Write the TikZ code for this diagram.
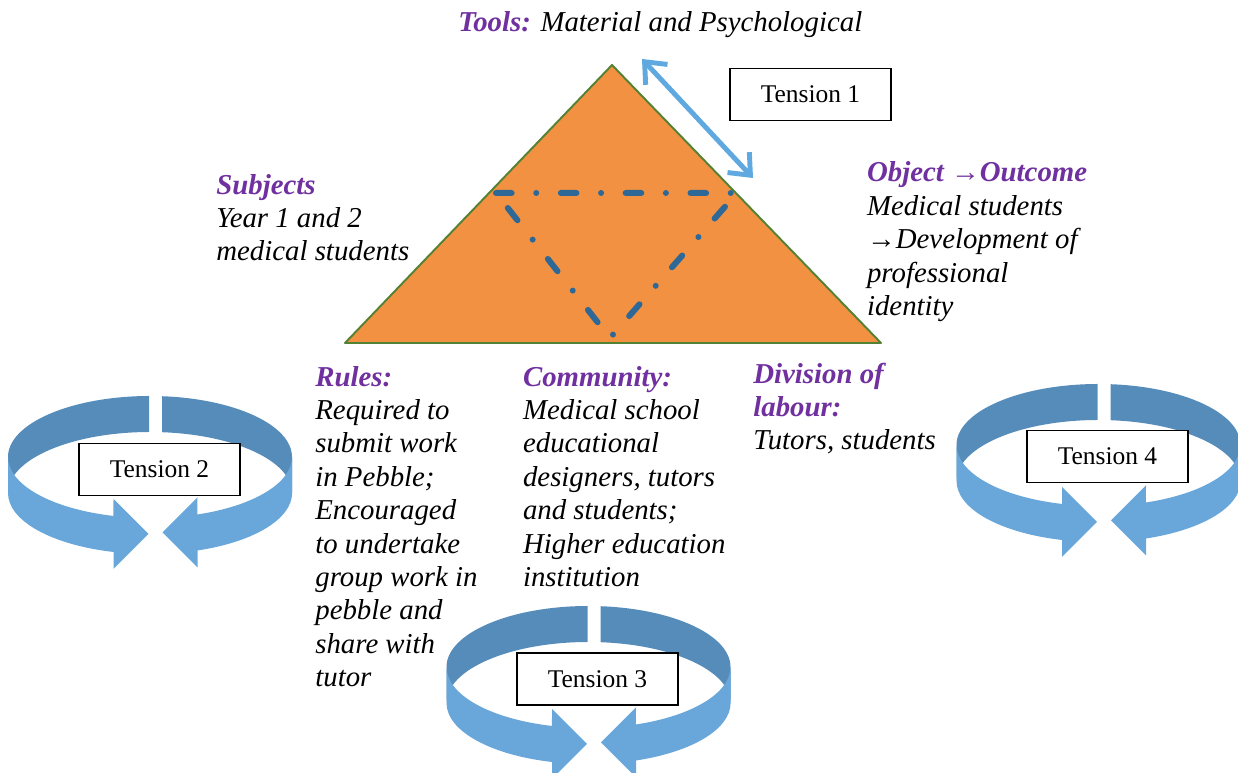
\documentclass[tikz,border=0pt]{standalone}
\usepackage{fontspec}
\setmainfont{Liberation Serif}
\usetikzlibrary{arrows.meta}

\definecolor{orangetri}{RGB}{241,145,65}
\definecolor{verttri}{RGB}{84,130,53}
\definecolor{bleufonce}{RGB}{46,104,150}
\definecolor{bleuclair}{RGB}{95,168,224}
\definecolor{anneaudos}{RGB}{86,140,186}
\definecolor{anneaface}{RGB}{105,167,219}
\definecolor{violet}{RGB}{112,48,160}

\newcommand\rubrique[1]{{\bfseries\color{violet}#1}}
\newcommand\premier{\rule{0pt}{13.3pt}}

\tikzset{
  txt/.style={anchor=north west, inner sep=0pt, align=left,
    font=\fontsize{16.4}{19}\selectfont\itshape},
  tensionbox/.style={draw, fill=white, line width=1.1pt, inner sep=0pt,
    minimum width=3.22cm, minimum height=1.04cm,
    font=\fontsize{14.5}{17}\selectfont},
}

\begin{document}
\begin{tikzpicture}[x=0.02cm,y=0.02cm]
\useasboundingbox (0,0) rectangle (1238,773);

% triangle
\coordinate (sommet) at (612,708);
\coordinate (gauche) at (345,430);
\coordinate (droite) at (881,430);
\fill[orangetri] (sommet) -- (gauche) -- (droite) -- cycle;
\draw[verttri, line width=1.1pt, line join=round] (sommet) -- (gauche) -- (droite) -- cycle;

% triangle interieur en tirets-points
\coordinate (dl) at (496,580);
\coordinate (dr) at (737,580);
\coordinate (db) at (610,435);
\draw[bleufonce, line width=3.4pt, line cap=round,
  dash pattern=on 8.9pt off 14pt on 0pt off 14pt] (dl) -- (dr) -- (db) -- cycle;

% tension 1
\coordinate (t1a) at (642,714);
\coordinate (t1b) at (753,595);
\draw[bleuclair, line width=2.8pt,
  {Straight Barb[length=10pt,width=17pt]}-{Straight Barb[length=10pt,width=17pt]}] (t1a) -- (t1b);
\node[tensionbox] (t1) at (810.5,678.5) {Tension 1};

% anneaux : ecart du haut, haut de l'anneau, numero
\foreach \gx/\yt/\n in {155.5/377/2, 594/167/3, 1104/389/4} {
  \pgfmathsetmacro\ex{\gx-5.5}
  \pgfmathsetmacro\ey{\yt-61}
  % partie arriere
  \fill[anneaudos] (\ex-142,\ey) arc[start angle=180, end angle=90.4, x radius=142, y radius=61]
    -- ++(0,-36) arc[start angle=90.4, end angle=180, x radius=142, y radius=61] -- cycle;
  \fill[anneaudos] (\ex+142,\ey) arc[start angle=0, end angle=85.15, x radius=142, y radius=61]
    -- ++(0,-36) arc[start angle=85.15, end angle=0, x radius=142, y radius=61] -- cycle;
  % partie avant avec les fleches
  \fill[anneaface] (\ex-142,\ey) arc[start angle=180, end angle=255.1, x radius=142, y radius=61]
    -- (\gx-42,\ey-42) -- (\gx-7,\ey-77) -- (\gx-42,\ey-112) -- (\gx-42,\ey-95)
    arc[start angle=255.1, end angle=180, x radius=142, y radius=61] -- cycle;
  \fill[anneaface] (\ex+142,\ey) arc[start angle=360, end angle=289.5, x radius=142, y radius=61]
    -- (\gx+42,\ey-40.5) -- (\gx+7,\ey-75.5) -- (\gx+42,\ey-110.5) -- (\gx+42,\ey-93.5)
    arc[start angle=289.5, end angle=360, x radius=142, y radius=61] -- cycle;
}

\node[tensionbox] (t2) at (159.5,303.5) {Tension 2};
\node[tensionbox] (t3) at (597.5,94) {Tension 3};
\node[tensionbox] (t4) at (1107.5,316.5) {Tension 4};

% textes
\node[txt] (tools) at (458,764.8) {\premier\rubrique{Tools:} Material and Psychological};
\node[txt] (subjects) at (216,602.5) {\premier\rubrique{Subjects}\\Year 1 and 2\\medical students};
\node[txt] (object) at (866.7,614.8) {\premier\rubrique{Object →Outcome}\\Medical students\\→Development of\\professional\\identity};
\node[txt] (rules) at (315,410.5) {\premier\rubrique{Rules:}\\Required to\\submit work\\in Pebble;\\Encouraged\\to undertake\\group work in\\pebble and\\share with\\tutor};
\node[txt] (community) at (522.7,410.5) {\premier\rubrique{Community:}\\Medical school\\educational\\designers, tutors\\and students;\\Higher education\\institution};
\node[txt] (division) at (753,413.5) {\premier\rubrique{Division of}\\\rubrique{labour:}\\Tutors, students};
\end{tikzpicture}
\end{document}
